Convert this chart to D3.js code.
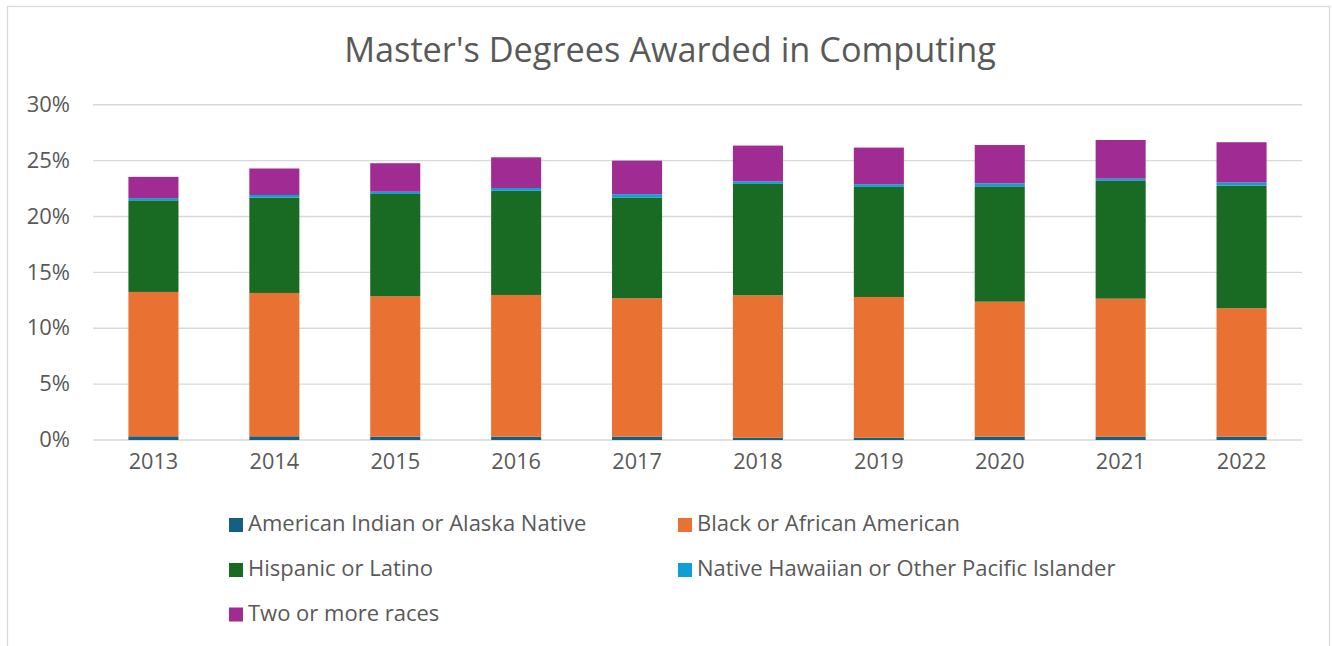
<!DOCTYPE html>
<html>
<head>
<meta charset="utf-8">
<script src="https://cdn.jsdelivr.net/npm/d3@7"></script>
<style>
  body { margin: 0; background: #fff; }
  text { font-family: "Open Sans", "Noto Sans", sans-serif; fill: #595959; }
</style>
</head>
<body>
<div id="chart"></div>
<script>
const years = ["2013","2014","2015","2016","2017","2018","2019","2020","2021","2022"]
const seriesNames = ["American Indian or Alaska Native","Black or African American","Hispanic or Latino","Native Hawaiian or Other Pacific Islander","Two or more races"]
const colors = ["#156082","#E97132","#196B24","#0F9ED5","#A02B93"]

// percent of master's degrees
const americanIndian = [0.33,0.33,0.30,0.30,0.30,0.20,0.20,0.30,0.28,0.30]
const black = [12.92,12.83,12.56,12.68,12.38,12.75,12.60,12.08,12.37,11.49]
const hispanic = [8.20,8.54,9.16,9.32,9.02,9.97,9.85,10.32,10.54,10.98]
const nativeHawaiian = [0.20,0.23,0.20,0.25,0.30,0.22,0.24,0.27,0.20,0.27]
const twoOrMore = [1.90,2.37,2.55,2.75,3.00,3.21,3.28,3.43,3.46,3.61]
const yTicks = [0,5,10,15,20,25,30]

const width = 1332
const height = 646
const margin = { top: 104.8, bottom: 206, left: 93, right: 30 }

const svg = d3.select("#chart").append("svg")
  .attr("width", width)
  .attr("height", height)

// chart area border
svg.append("rect")
  .attr("x", 7.5).attr("y", 6.5)
  .attr("width", 1322).attr("height", 660)
  .attr("fill", "none").attr("stroke", "#d9d9d9").attr("stroke-width", 1.3)

svg.append("text")
  .attr("x", 670).attr("y", 62)
  .attr("text-anchor", "middle")
  .attr("font-size", "34.3px")
  .text("Master's Degrees Awarded in Computing")

const x = d3.scaleBand()
  .domain(years)
  .range([margin.left, width - margin.right])
  .paddingInner(0.586)
  .paddingOuter(0.293)

const y = d3.scaleLinear()
  .domain([0, 30])
  .range([height - margin.bottom, margin.top])

// gridlines
svg.append("g")
  .selectAll("line")
  .data(yTicks)
  .join("line")
    .attr("x1", margin.left).attr("x2", width - margin.right)
    .attr("y1", d => y(d)).attr("y2", d => y(d))
    .attr("stroke", "#d9d9d9").attr("stroke-width", 1.4)

const rows = years.map((yr, i) => ({
  year: yr,
  s0: americanIndian[i], s1: black[i], s2: hispanic[i], s3: nativeHawaiian[i], s4: twoOrMore[i]
}))
const stacked = d3.stack().keys(["s0","s1","s2","s3","s4"])(rows)

svg.append("g")
  .selectAll("g")
  .data(stacked)
  .join("g")
    .attr("fill", (d, i) => colors[i])
  .selectAll("rect")
  .data(d => d)
  .join("rect")
    .attr("x", d => x(d.data.year))
    .attr("y", d => y(d[1]))
    .attr("width", x.bandwidth())
    .attr("height", d => y(d[0]) - y(d[1]))

// y axis labels
const yAxis = svg.append("g")
  .attr("transform", `translate(${margin.left - 23},0)`)
  .call(d3.axisLeft(y).tickValues(yTicks).tickFormat(d => d + "%").tickSize(0))
yAxis.select(".domain").remove()
yAxis.selectAll("text").attr("font-size", "22px").attr("fill", "#595959").attr("x", 0).attr("dy", "0.3em")

// x axis labels
const xAxis = svg.append("g")
  .attr("transform", `translate(0,${y(0)})`)
  .call(d3.axisBottom(x).tickSize(0))
xAxis.select(".domain").remove()
xAxis.selectAll("text").attr("font-size", "21.7px").attr("fill", "#595959").attr("y", 29).attr("dy", 0)

// legend
const legendPos = [[229,525],[678,525],[229,570],[678,570],[229,614.5]]
const legend = svg.append("g")
  .selectAll("g")
  .data(seriesNames)
  .join("g")
    .attr("transform", (d, i) => `translate(${legendPos[i][0]},${legendPos[i][1]})`)
legend.append("rect")
  .attr("x", 0).attr("y", -7)
  .attr("width", 14).attr("height", 14)
  .attr("fill", (d, i) => colors[i])
legend.append("text")
  .attr("x", 19).attr("y", 6)
  .attr("font-size", "22px")
  .text(d => d)
</script>
</body>
</html>
